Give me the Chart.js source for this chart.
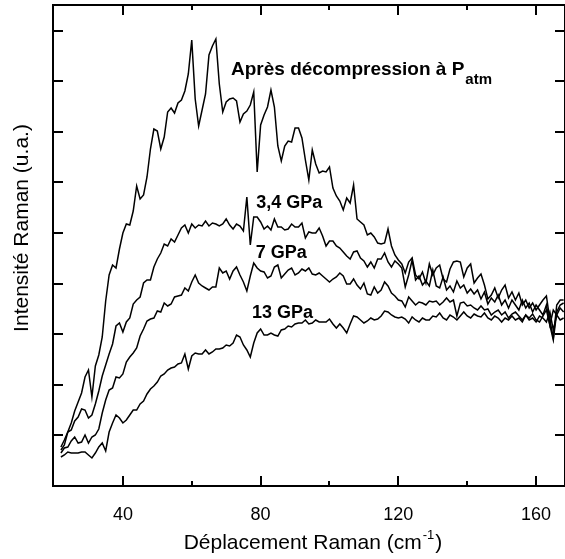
<!DOCTYPE html>
<html>
<head>
<meta charset="utf-8">
<script src="https://cdn.jsdelivr.net/npm/chart.js@4.4.1/dist/chart.umd.min.js"></script>
<style>
  html, body { margin: 0; padding: 0; background: #fff; }
  #wrap { width: 565px; height: 559px; }
</style>
</head>
<body>
<div id="wrap"><canvas id="raman"></canvas></div>
<script>
// Raman shift (cm-1)
var shift = [
  22, 23, 24, 25, 26, 27, 28, 29, 30, 31,
  32, 33, 34, 35, 36, 37, 38, 39, 40, 41,
  42, 43, 44, 45, 46, 47, 48, 49, 50, 51,
  52, 53, 54, 55, 56, 57, 58, 59, 60, 61,
  62, 63, 64, 65, 66, 67, 68, 69, 70, 71,
  72, 73, 74, 75, 76, 77, 78, 79, 80, 81,
  82, 83, 84, 85, 86, 87, 88, 89, 90, 91,
  92, 93, 94, 95, 96, 97, 98, 99, 100, 101,
  102, 103, 104, 105, 106, 107, 108, 109, 110, 111,
  112, 113, 114, 115, 116, 117, 118, 119, 120, 121,
  122, 123, 124, 125, 126, 127, 128, 129, 130, 131,
  132, 133, 134, 135, 136, 137, 138, 139, 140, 141,
  142, 143, 144, 145, 146, 147, 148, 149, 150, 151,
  152, 153, 154, 155, 156, 157, 158, 159, 160, 161,
  162, 163, 164, 165, 166, 167, 168
];

// intensities (u.a.)
var patm = [
  36, 41, 54, 63, 75, 84, 93, 109, 116, 89,
  120, 131, 149, 185, 211, 221, 218, 237, 253, 262,
  261, 275, 300, 287, 291, 309, 337, 357, 355, 337,
  349, 374, 378, 373, 383, 386, 395, 412, 446, 387,
  360, 376, 392, 431, 440, 447, 402, 374, 384, 387,
  388, 385, 364, 372, 375, 381, 394, 314, 361, 371,
  379, 396, 379, 340, 325, 340, 345, 344, 358, 358,
  348, 326, 306, 336, 322, 313, 315, 314, 319, 298,
  290, 285, 276, 288, 283, 301, 267, 264, 261, 251,
  253, 249, 243, 242, 243, 257, 240, 231, 226, 222,
  213, 224, 228, 211, 207, 214, 203, 222, 211, 218,
  221, 207, 204, 217, 224, 225, 224, 209, 218, 222,
  203, 208, 212, 201, 187, 191, 198, 188, 196, 201,
  188, 194, 186, 193, 181, 186, 178, 183, 176, 181,
  186, 190, 166, 148, 181, 186, 186
];
var gpa34 = [
  39, 46, 54, 56, 65, 69, 77, 76, 68, 71,
  82, 95, 110, 121, 132, 142, 160, 163, 154, 164,
  168, 182, 186, 189, 203, 206, 206, 219, 227, 233,
  242, 240, 247, 244, 251, 258, 261, 253, 262, 258,
  261, 260, 265, 260, 263, 262, 260, 262, 267, 261,
  257, 262, 260, 255, 289, 241, 269, 269, 264, 257,
  260, 256, 267, 259, 259, 256, 257, 262, 259, 259,
  263, 248, 254, 253, 253, 258, 250, 240, 245, 245,
  240, 238, 234, 230, 227, 234, 235, 228, 225, 219,
  224, 218, 227, 227, 233, 224, 219, 225, 222, 218,
  199, 211, 226, 206, 210, 201, 205, 200, 216, 200,
  198, 209, 196, 200, 194, 205, 198, 201, 193, 197,
  192, 196, 187, 194, 182, 188, 184, 191, 181, 186,
  178, 186, 181, 176, 186, 178, 183, 174, 181, 176,
  171, 181, 161, 176, 171, 178, 174
];
var gpa7 = [
  33, 38, 39, 45, 49, 43, 44, 51, 43, 49,
  51, 57, 73, 86, 96, 98, 109, 108, 112, 124,
  129, 133, 138, 150, 157, 165, 167, 168, 175, 174,
  183, 180, 182, 189, 190, 191, 198, 195, 204, 211,
  203, 200, 198, 196, 199, 199, 218, 213, 215, 207,
  215, 219, 211, 204, 195, 210, 223, 218, 215, 214,
  208, 210, 219, 221, 208, 212, 216, 218, 211, 213,
  217, 215, 218, 212, 211, 213, 210, 207, 204, 207,
  209, 213, 210, 202, 202, 207, 201, 197, 203, 192,
  191, 199, 193, 196, 204, 200, 193, 190, 186, 185,
  179, 189, 185, 181, 184, 183, 181, 185, 184, 185,
  181, 184, 188, 184, 186, 170, 183, 184, 180, 181,
  178, 176, 180, 176, 177, 171, 174, 176, 171, 174,
  168, 172, 174, 170, 166, 171, 168, 172, 166, 164,
  170, 176, 161, 146, 174, 181, 183
];
var gpa13 = [
  29, 31, 34, 33, 33, 33, 34, 34, 31, 28,
  33, 39, 43, 35, 54, 63, 71, 68, 63, 66,
  71, 76, 76, 82, 85, 92, 97, 100, 104, 110,
  112, 116, 118, 119, 122, 123, 132, 117, 130, 133,
  132, 132, 136, 132, 134, 137, 137, 138, 141, 140,
  143, 151, 149, 141, 136, 129, 143, 153, 157, 151,
  151, 153, 151, 150, 156, 157, 160, 159, 162, 163,
  163, 166, 162, 163, 166, 164, 164, 164, 167, 162,
  158, 162, 158, 153, 162, 170, 169, 166, 163, 165,
  168, 166, 167, 170, 175, 174, 171, 169, 168, 169,
  167, 163, 169, 166, 164, 168, 166, 166, 170, 169,
  173, 168, 166, 171, 169, 166, 170, 174, 170, 168,
  172, 170, 169, 173, 168, 166, 170, 168, 164, 168,
  166, 170, 166, 168, 164, 171, 166, 168, 164, 170,
  168, 164, 174, 156, 171, 166, 168
];

var xTicks = [40, 60, 80, 100, 120, 140, 160];
var xLabels = [40, 80, 120, 160];

// curve labels: text, x (cm-1), y (u.a.) of the text baseline start
var curveNames = ["Après décompression à P", "3,4 GPa", "7 GPa", "13 GPa"];
var nameX = [71.4, 78.7, 78.6, 77.5];
var nameY = [411, 278, 228, 168];

var FONT = "'Liberation Sans', Arial, sans-serif";

function pts(ys) {
  return shift.map(function (x, i) { return { x: x, y: ys[i] }; });
}

// frame, inward ticks, axis titles and curve names
var decorPlugin = {
  id: "decor",
  afterDatasetsDraw: function (chart) {
    var ctx = chart.ctx;
    var a = chart.chartArea;
    var xs = chart.scales.x, ys = chart.scales.y;
    ctx.save();
    ctx.strokeStyle = "#000";
    ctx.fillStyle = "#000";
    ctx.lineWidth = 2;
    ctx.strokeRect(a.left, a.top, a.right - a.left, a.bottom - a.top);

    ctx.beginPath();
    xTicks.forEach(function (v) {
      var px = Math.round(xs.getPixelForValue(v));
      var len = xLabels.indexOf(v) >= 0 ? 10 : 5;
      ctx.moveTo(px, a.bottom); ctx.lineTo(px, a.bottom - len);
      ctx.moveTo(px, a.top); ctx.lineTo(px, a.top + len);
    });
    ys.ticks.forEach(function (t) {
      if (t.value <= ys.min + 1 || t.value >= ys.max - 1) return;
      var py = Math.round(ys.getPixelForValue(t.value));
      ctx.moveTo(a.left, py); ctx.lineTo(a.left + 10, py);
      ctx.moveTo(a.right, py); ctx.lineTo(a.right - 10, py);
    });
    ctx.stroke();

    // y title
    ctx.save();
    ctx.translate(28, 228);
    ctx.rotate(-Math.PI / 2);
    ctx.font = "21px " + FONT;
    ctx.textAlign = "center";
    ctx.textBaseline = "alphabetic";
    ctx.fillText("Intensité Raman (u.a.)", 0, 0);
    ctx.restore();

    // x title with superscript
    ctx.textBaseline = "alphabetic";
    ctx.textAlign = "left";
    var t1 = "Déplacement Raman (cm", sup = "-1", t2 = ")";
    ctx.font = "21px " + FONT;
    var w1 = ctx.measureText(t1).width, w3 = ctx.measureText(t2).width;
    ctx.font = "13px " + FONT;
    var w2 = ctx.measureText(sup).width;
    var x0 = (a.left + a.right) / 2 + 3 - (w1 + w2 + w3) / 2;
    ctx.font = "21px " + FONT;
    ctx.fillText(t1, x0, 549);
    ctx.font = "13px " + FONT;
    ctx.fillText(sup, x0 + w1 + 1, 539);
    ctx.font = "21px " + FONT;
    ctx.fillText(t2, x0 + w1 + w2 + 2, 549);

    // curve names
    curveNames.forEach(function (s, i) {
      var px = xs.getPixelForValue(nameX[i]);
      var py = ys.getPixelForValue(nameY[i]);
      ctx.font = "bold " + (i === 0 ? 19 : 18) + "px " + FONT;
      ctx.fillText(s, px, py);
      if (i === 0) {
        var w = ctx.measureText(s).width;
        ctx.font = "bold 15px " + FONT;
        ctx.fillText("atm", px + w + 1, py + 9);
      }
    });
    ctx.restore();
  }
};

function line(ys) {
  return {
    data: pts(ys),
    borderColor: "#000",
    borderWidth: 1.5,
    pointRadius: 0,
    fill: false,
    tension: 0
  };
}

var chart = new Chart(document.getElementById("raman").getContext("2d"), {
  type: "line",
  plugins: [decorPlugin],
  data: {
    datasets: [line(patm), line(gpa34), line(gpa7), line(gpa13)]
  },
  options: {
    responsive: true,
    maintainAspectRatio: false,
    animation: false,
    devicePixelRatio: 1,
    layout: { padding: { top: 5, right: -2, left: 0, bottom: 0 } },
    plugins: { legend: { display: false }, tooltip: { enabled: false } },
    scales: {
      x: {
        type: "linear",
        min: 19.7,
        max: 168.4,
        afterBuildTicks: function (s) {
          s.ticks = xTicks.map(function (v) { return { value: v }; });
        },
        afterFit: function (s) { s.height = 73; },
        grid: { display: false },
        border: { display: false },
        ticks: {
          autoSkip: false,
          maxRotation: 0,
          padding: 10,
          color: "#000",
          font: { family: FONT, size: 18 },
          callback: function (v) { return xLabels.indexOf(v) >= 0 ? String(v) : ""; }
        }
      },
      y: {
        min: 0,
        max: 481,
        afterFit: function (s) { s.width = 53; },
        grid: { display: false },
        border: { display: false },
        ticks: { display: false, stepSize: 50.6 }
      }
    }
  }
});
</script>
</body>
</html>
